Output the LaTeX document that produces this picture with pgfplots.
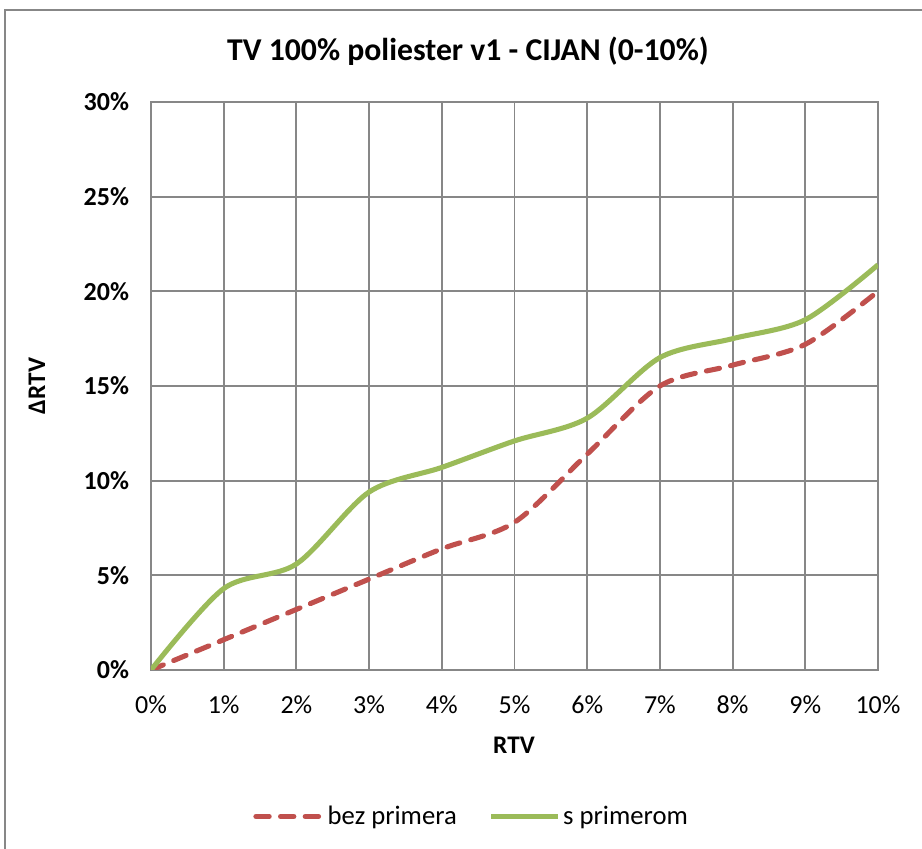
\documentclass[border=0pt]{standalone}
\usepackage{fontspec}
\setmainfont{Carlito}
\usepackage{pgfplots}
\pgfplotsset{compat=1.18}
\definecolor{rdash}{HTML}{C0504D}
\definecolor{grn}{HTML}{9BBB59}
\definecolor{grd}{HTML}{878787}

\begin{document}
\begin{tikzpicture}
\useasboundingbox (0pt,0pt) rectangle (691.5pt,636.75pt);
\draw[grd,line width=1.5pt] (3.75pt,0pt) -- (3.75pt,629.25pt) -- (691.5pt,629.25pt);
\begin{axis}[
    at={(113.25pt,134.25pt)}, anchor=south west,
    scale only axis,
    width=545.25pt, height=426pt,
    xmin=0, xmax=10, ymin=0, ymax=30,
    xtick={0,1,...,10}, ytick={0,5,...,30},
    grid=major,
    major grid style={grd,line width=1.4pt},
    axis line style={grd,line width=1.4pt},
    major tick length=0pt,
    xticklabel={\pgfmathprintnumber{\tick}\%},
    yticklabel={\textbf{\pgfmathprintnumber{\tick}\%}},
    /pgf/number format/assume math mode=true,
    ticklabel style={font=\fontsize{19.5}{23}\selectfont},
    xticklabel style={yshift=-16pt},
    yticklabel style={xshift=-13pt},
    title={\textbf{TV 100\% poliester v1 - CIJAN (0-10\%)}},
    title style={font=\fontsize{23.8}{28}\selectfont, at={(rel axis cs:0.436,1.075)}, anchor=center},
    xlabel={\textbf{RTV}},
    xlabel style={font=\fontsize{19}{23}\selectfont, at={(rel axis cs:0.4993,-0.132)}, anchor=center},
    ylabel={\textbf{ΔRTV}},
    ylabel style={font=\fontsize{19}{23}\selectfont, at={(rel axis cs:-0.157,0.5)}, anchor=center, rotate=0},
    legend columns=2,
    legend style={draw=none, at={(0.4415,-0.258)}, anchor=center,
        font=\fontsize{20}{24}\selectfont,
        /tikz/every even column/.append style={column sep=22pt}},
    legend image code/.code={\draw[#1] (0pt,0pt) -- (50pt,0pt);},
]
\addplot[rdash, line width=3.8pt, dash pattern=on 10pt off 8.5pt, line cap=round, smooth] coordinates {
(0,0) (1,1.6) (2,3.2) (3,4.8) (4,6.4) (5,7.8) (6,11.4) (7,15.0) (8,16.1) (9,17.2) (10,20.0)
};
\addplot[grn, line width=3.8pt, smooth] coordinates {
(0,0) (1,4.3) (2,5.6) (3,9.4) (4,10.7) (5,12.1) (6,13.3) (7,16.5) (8,17.5) (9,18.5) (10,21.4)
};
\legend{bez primera, s primerom}
\end{axis}
\end{tikzpicture}
\end{document}
